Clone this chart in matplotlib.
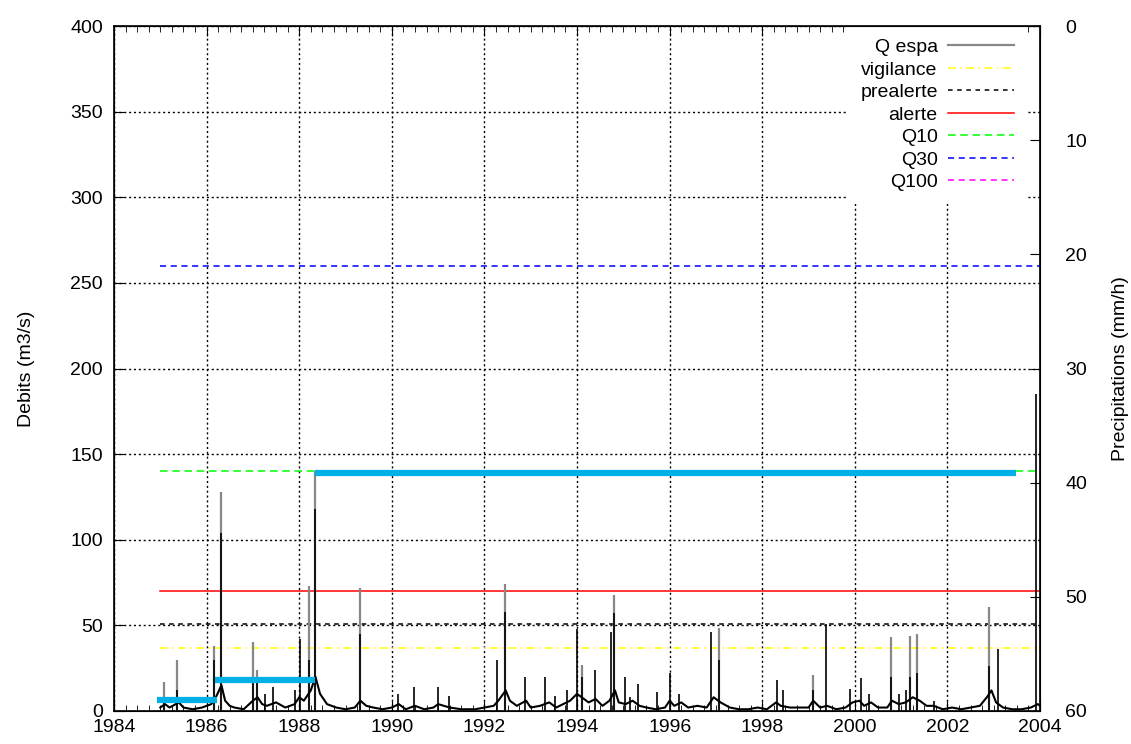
#!/usr/bin/env python3
"""Debits and precipitations, 1984-2004"""

import matplotlib
matplotlib.use("Agg")
import matplotlib.pyplot as plt
from matplotlib.ticker import MultipleLocator

plt.rcParams["font.family"] = ["Liberation Sans", "DejaVu Sans"]

# low flow between floods (time in decimal years, debit in m3/s)
base_t = [1985.0, 1985.1, 1985.2, 1985.4, 1985.5, 1985.7, 1985.9, 1986.1, 1986.2, 1986.32,
          1986.4, 1986.5, 1986.6, 1986.8, 1987.0, 1987.1, 1987.2, 1987.3, 1987.5, 1987.7,
          1987.9, 1988.0, 1988.1, 1988.25, 1988.35, 1988.45, 1988.6, 1988.8, 1989.0, 1989.2,
          1989.32, 1989.45, 1989.6, 1989.8, 1990.0, 1990.15, 1990.3, 1990.5, 1990.7, 1990.9,
          1991.0, 1991.25, 1991.5, 1991.8, 1992.0, 1992.2, 1992.3, 1992.46, 1992.55, 1992.7,
          1992.9, 1993.0, 1993.2, 1993.4, 1993.55, 1993.7, 1993.85, 1994.0, 1994.1, 1994.25,
          1994.4, 1994.55, 1994.7, 1994.82, 1994.9, 1995.05, 1995.2, 1995.35, 1995.5, 1995.7,
          1995.9, 1996.0, 1996.1, 1996.25, 1996.4, 1996.6, 1996.8, 1996.95, 1997.1, 1997.3,
          1997.5, 1997.7, 1997.9, 1998.1, 1998.3, 1998.4, 1998.6, 1998.8, 1999.0, 1999.1,
          1999.25, 1999.4, 1999.6, 1999.8, 1999.95, 2000.1, 2000.2, 2000.35, 2000.5, 2000.7,
          2000.8, 2000.95, 2001.1, 2001.25, 2001.4, 2001.55, 2001.7, 2001.9, 2002.1, 2002.3,
          2002.5, 2002.7, 2002.85, 2002.95, 2003.05, 2003.2, 2003.4, 2003.6, 2003.8, 2003.95,
          2004.0]
base_q = [2, 4, 2, 5, 2, 1, 2, 4, 8, 15,
          6, 3, 2, 1, 6, 8, 4, 3, 5, 2,
          4, 8, 6, 12, 20, 10, 4, 2, 1, 2,
          6, 3, 2, 1, 2, 4, 1, 3, 1, 2,
          4, 2, 1, 1, 2, 3, 6, 12, 6, 3,
          6, 2, 3, 5, 2, 4, 6, 10, 8, 5,
          7, 3, 6, 12, 5, 4, 6, 3, 2, 1,
          2, 6, 3, 5, 2, 3, 2, 8, 5, 2,
          1, 1, 2, 1, 5, 3, 2, 2, 2, 6,
          2, 3, 1, 2, 5, 6, 3, 5, 2, 2,
          6, 4, 5, 8, 6, 3, 3, 1, 2, 1,
          2, 3, 8, 12, 5, 2, 1, 1, 2, 4,
          3]

# flood peaks, black series
black_peak_t = [1985.07, 1985.35, 1986.15, 1986.31, 1987.0, 1987.08, 1987.26, 1987.44, 1987.9, 1988.02,
                1988.21, 1988.34, 1989.31, 1990.13, 1990.48, 1991.0, 1991.24, 1992.27, 1992.45, 1992.88,
                1993.3, 1993.52, 1993.78, 1994.0, 1994.1, 1994.39, 1994.73, 1994.8, 1995.04, 1995.15,
                1995.31, 1995.72, 1996.0, 1996.2, 1996.9, 1997.07, 1998.32, 1998.45, 1999.09, 1999.38,
                1999.9, 2000.13, 2000.3, 2000.78, 2000.95, 2001.1, 2001.2, 2001.35, 2001.7, 2002.9,
                2003.1, 2003.91]
black_peak_q = [8, 12, 30, 104, 20, 18, 10, 14, 12, 42,
                30, 118, 45, 10, 14, 14, 9, 30, 58, 20,
                20, 9, 12, 48, 20, 24, 46, 57, 20, 8,
                16, 11, 22, 10, 46, 30, 18, 12, 12, 51,
                13, 19, 10, 20, 10, 12, 20, 22, 6, 26,
                36, 185]

# flood peaks, grey series (Q espa)
grey_peak_t = [1985.07, 1985.35, 1986.15, 1986.31, 1987.0, 1987.08, 1988.21, 1988.34, 1989.31,
               1992.45, 1994.1, 1994.8, 1997.07, 1999.09, 2000.78, 2001.2, 2001.35, 2002.9]
grey_peak_q = [17, 30, 38, 128, 40, 24, 73, 140, 72,
               74, 27, 68, 48.5, 21, 43, 44, 45, 61]

# threshold lines (m3/s), drawn from 1985 to 2004
thr_start = 1985.0
thr_end = 2004.0
thr_names = ["vigilance", "prealerte", "alerte", "Q10", "Q30", "Q100"]
thr_values = [37, 51, 70, 140, 260, 430]
thr_colors = ["#ffff00", "black", "red", "#00ff00", "#0000ff", "#ff00ff"]
thr_styles = [(0, (5, 3, 1, 3)), (0, (3, 3)), "-", (0, (5, 3)), (0, (4, 3)), (0, (4, 3))]

# precipitation steps (mm/h, right axis)
rain_start = [1984.92, 1986.18, 1988.34]
rain_end = [1986.22, 1988.34, 2003.48]
rain_mm = [59.0, 57.3, 39.15]

fig = plt.figure(figsize=(11.31, 7.44), dpi=100)
ax = fig.add_axes([0.1008, 0.0444, 0.8188, 0.9206])

ax.vlines(grey_peak_t, 0, grey_peak_q, color="#888888", lw=1.6, zorder=3)
ax.plot([], [], color="#888888", lw=1.6, label="Q espa")
ax.vlines(black_peak_t, 0, black_peak_q, color="black", lw=1.2, zorder=3.5)
ax.plot(base_t, base_q, color="black", lw=1.5, zorder=3.5)
for name, val, col, ls in zip(thr_names, thr_values, thr_colors, thr_styles):
    ax.plot([thr_start, thr_end], [val, val], color=col, ls=ls, lw=1.1, label=name, zorder=2.5)

ax.set_xlim(1984, 2004)
ax.set_ylim(0, 400)
ax.xaxis.set_major_locator(MultipleLocator(2))
ax.xaxis.set_minor_locator(MultipleLocator(0.25))
ax.yaxis.set_major_locator(MultipleLocator(50))
ax.tick_params(axis="x", which="both", direction="in", top=True, labelsize=14)
ax.tick_params(axis="x", which="major", length=7, pad=6)
ax.tick_params(axis="x", which="minor", length=4)
ax.tick_params(axis="y", direction="in", length=7, labelsize=14, pad=8)
ax.grid(True, color="black", ls=(0, (1.5, 2)), lw=1.0)
ax.set_ylabel("Debits (m3/s)", fontsize=14, labelpad=25)
for s in ax.spines.values():
    s.set_linewidth(1.2)

leg = ax.legend(loc="upper right", bbox_to_anchor=(0.985, 1.0), borderaxespad=0.0,
                markerfirst=False, fontsize=14, handlelength=3.35, labelspacing=0.25,
                frameon=True, fancybox=False, framealpha=1.0, edgecolor="none",
                facecolor="white", borderpad=0.65, handletextpad=0.55)
leg.set_zorder(6)

ax2 = ax.twinx()
ax2.set_ylim(60, 0)
ax2.yaxis.set_major_locator(MultipleLocator(10))
ax2.tick_params(axis="y", direction="in", length=7, labelsize=14, pad=18)
ax2.hlines(rain_mm, rain_start, rain_end, color="#00b0e6", lw=4.5, zorder=4)
ax2.set_ylabel("Precipitations (mm/h)", fontsize=14, rotation=90, labelpad=18)
ax2.set_xlim(1984, 2004)

fig.savefig("out.png", dpi=100)
